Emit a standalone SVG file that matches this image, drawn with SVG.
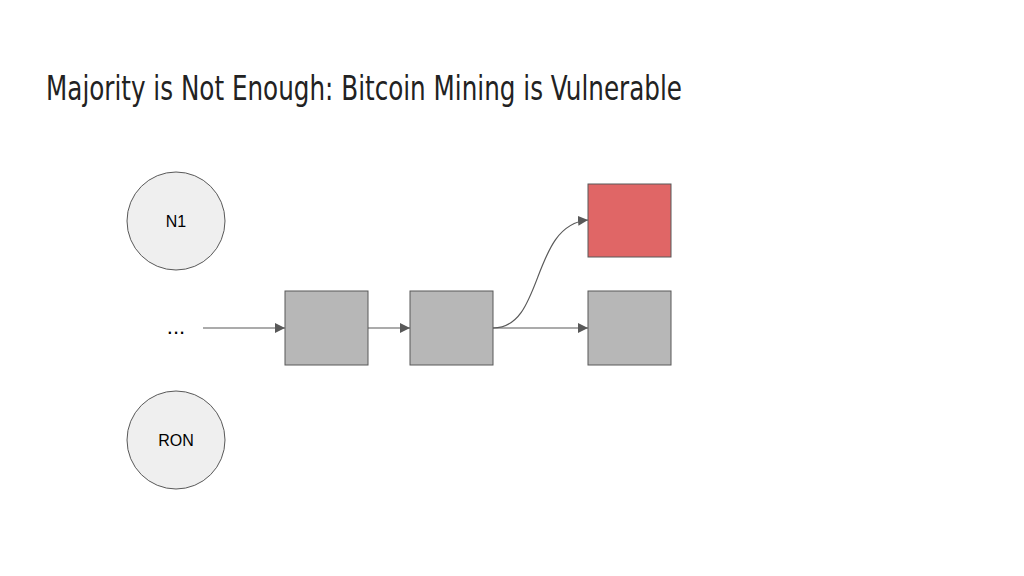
<svg xmlns="http://www.w3.org/2000/svg" width="1024" height="576" viewBox="0 0 1024 576">
<style>
.n{fill:#efefef;stroke:#595959;stroke-width:1}
.b{fill:#b7b7b7;stroke:#595959;stroke-width:1}
.r{fill:#e06666;stroke:#595959;stroke-width:1}
.t{font-family:"Liberation Sans",Arial,sans-serif;font-size:16px;fill:#000;text-anchor:middle}
.c{fill:none;stroke:#595959;stroke-width:1.2}
</style>
<defs><marker id="a" viewBox="0 0 10 10" refX="10" refY="5" markerWidth="10" markerHeight="10" markerUnits="userSpaceOnUse" orient="auto"><path d="M0,0L10,5L0,10z" fill="#595959"/></marker></defs>
<rect width="1024" height="576" fill="#fff"/>
<text x="46" y="100" textLength="636" lengthAdjust="spacingAndGlyphs" style="font-family:'DejaVu Sans Condensed','Liberation Sans Narrow','Liberation Sans',sans-serif;font-size:34px;fill:#222">Majority is Not Enough: Bitcoin Mining is Vulnerable</text>
<g id="n1"><circle class="n" cx="176" cy="221" r="49"/><text class="t" x="176" y="227">N1</text></g>
<g id="ron"><circle class="n" cx="176" cy="440" r="49"/><text class="t" x="176" y="446">RON</text></g>
<g id="dots"><text class="t" x="176" y="334" style="font-size:22px">...</text></g>
<g id="b1"><rect class="b" x="285" y="291" width="83" height="74"/></g>
<g id="b2"><rect class="b" x="410" y="291" width="83" height="74"/></g>
<g id="b3"><rect class="b" x="588" y="291" width="83" height="74"/></g>
<g id="b4"><rect class="r" x="588" y="184" width="83" height="73"/></g>
<g id="connectors">
<path class="c" d="M203,328H285" marker-end="url(#a)"/>
<path class="c" d="M368,328H410" marker-end="url(#a)"/>
<path class="c" d="M493,328H588" marker-end="url(#a)"/>
<path class="c" d="M493,328C545,328 530,225 588,220" marker-end="url(#a)"/>
</g>
</svg>
